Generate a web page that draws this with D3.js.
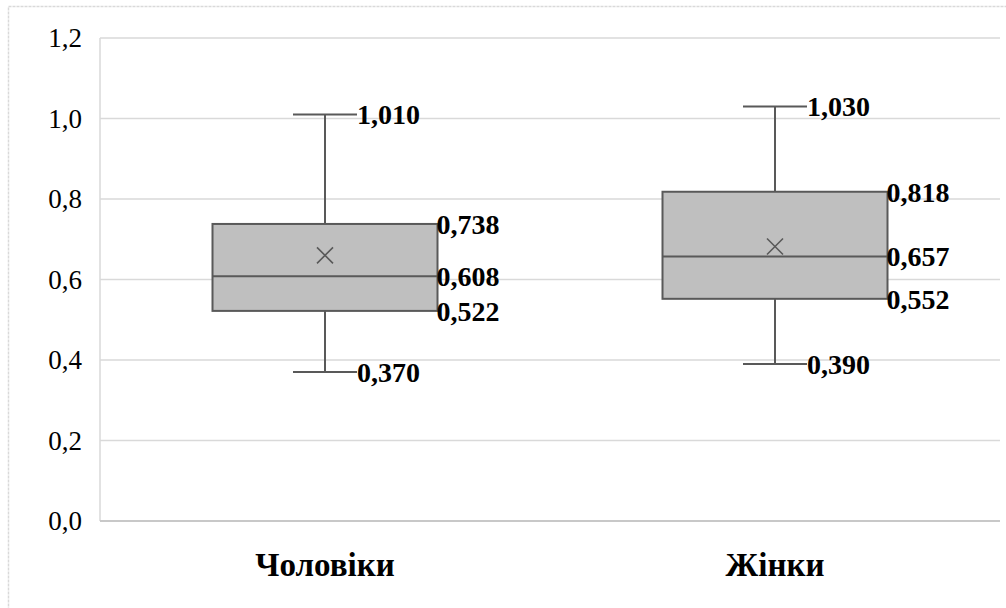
<!DOCTYPE html>
<html>
<head>
<meta charset="utf-8">
<script src="https://cdn.jsdelivr.net/npm/d3@7"></script>
<style>
  html, body { margin: 0; padding: 0; background: #fff; }
  svg { display: block; }
  text { font-family: "Liberation Serif", "Times New Roman", serif; }
</style>
</head>
<body>
<svg id="chart" width="1006" height="608"></svg>
<script>
// Box-plot statistics per group
const categories = ["Чоловіки", "Жінки"];
const whiskerLow = [0.370, 0.390];
const q1 = [0.522, 0.552];
const median = [0.608, 0.657];
const q3 = [0.738, 0.818];
const whiskerHigh = [1.010, 1.030];
const mean = [0.660, 0.682];
const yTicks = [0, 0.2, 0.4, 0.6, 0.8, 1.0, 1.2];

const fmt3 = v => v.toFixed(3).replace(".", ",");
const fmt1 = v => v.toFixed(1).replace(".", ",");

const W = 1006, H = 608;
const plot = { left: 100, right: 1000, top: 38, bottom: 521 };

const svg = d3.select("#chart");

// outer chart border
svg.append("rect")
  .attr("x", 8.5).attr("y", 6.5)
  .attr("width", W + 10).attr("height", H + 10)
  .attr("fill", "none")
  .attr("stroke", "#d9d9d9")
  .attr("stroke-width", 1.5)
  .attr("stroke-dasharray", "3,1");

const x = d3.scaleBand().domain(categories).range([plot.left, plot.right]).paddingInner(0).paddingOuter(0);
const y = d3.scaleLinear().domain([0, 1.2]).range([plot.bottom, plot.top]);

// horizontal gridlines
svg.append("g")
  .selectAll("line")
  .data(yTicks.filter(t => t > 0))
  .join("line")
  .attr("x1", plot.left).attr("x2", plot.right)
  .attr("y1", d => y(d)).attr("y2", d => y(d))
  .attr("stroke", "#d9d9d9")
  .attr("stroke-width", 1.5);

// left plot edge
svg.append("line")
  .attr("x1", plot.left).attr("x2", plot.left)
  .attr("y1", plot.top).attr("y2", plot.bottom)
  .attr("stroke", "#d9d9d9").attr("stroke-width", 1.5);

// y axis (labels only)
const yAxis = d3.axisLeft(y).tickValues(yTicks).tickFormat(fmt1).tickSize(0).tickPadding(18);
const yg = svg.append("g").attr("transform", `translate(${plot.left},0)`).call(yAxis);
yg.select(".domain").remove();
yg.selectAll("text")
  .attr("font-family", "Liberation Serif, serif")
  .attr("font-size", 27)
  .attr("fill", "#000");

// baseline axis
svg.append("line")
  .attr("x1", plot.left).attr("x2", plot.right)
  .attr("y1", y(0)).attr("y2", y(0))
  .attr("stroke", "#c8c8c8").attr("stroke-width", 2);

// x category labels
const xAxis = d3.axisBottom(x).tickSize(0).tickPadding(32);
const xg = svg.append("g").attr("transform", `translate(0,${plot.bottom})`).call(xAxis);
xg.select(".domain").remove();
xg.selectAll("text")
  .attr("font-family", "Liberation Serif, serif")
  .attr("font-size", 33)
  .attr("font-weight", "bold")
  .attr("fill", "#000");

const stroke = "#595959";
const boxW = x.bandwidth() * 0.5;
const capW = 64;

const groups = svg.append("g").selectAll("g")
  .data(categories.map((c, i) => ({
    c, lo: whiskerLow[i], q1: q1[i], med: median[i], q3: q3[i], hi: whiskerHigh[i], mean: mean[i]
  })))
  .join("g")
  .attr("transform", d => `translate(${x(d.c) + x.bandwidth() / 2},0)`);

// whiskers
groups.append("line")
  .attr("x1", 0).attr("x2", 0)
  .attr("y1", d => y(d.hi)).attr("y2", d => y(d.q3))
  .attr("stroke", stroke).attr("stroke-width", 2);
groups.append("line")
  .attr("x1", 0).attr("x2", 0)
  .attr("y1", d => y(d.q1)).attr("y2", d => y(d.lo))
  .attr("stroke", stroke).attr("stroke-width", 2);
// caps
groups.selectAll(".cap")
  .data(d => [d.lo, d.hi])
  .join("line")
  .attr("class", "cap")
  .attr("x1", -capW / 2).attr("x2", capW / 2)
  .attr("y1", v => y(v)).attr("y2", v => y(v))
  .attr("stroke", stroke).attr("stroke-width", 2);

// box
groups.append("rect")
  .attr("x", -boxW / 2)
  .attr("y", d => y(d.q3))
  .attr("width", boxW)
  .attr("height", d => y(d.q1) - y(d.q3))
  .attr("fill", "#bfbfbf")
  .attr("stroke", stroke).attr("stroke-width", 2);

// median
groups.append("line")
  .attr("x1", -boxW / 2).attr("x2", boxW / 2)
  .attr("y1", d => y(d.med)).attr("y2", d => y(d.med))
  .attr("stroke", stroke).attr("stroke-width", 2);

// mean marker
const m = 8;
groups.append("path")
  .attr("d", d => {
    const cy = y(d.mean);
    return `M${-m},${cy - m}L${m},${cy + m}M${-m},${cy + m}L${m},${cy - m}`;
  })
  .attr("stroke", stroke).attr("stroke-width", 1.6).attr("fill", "none");

// value labels: box edges and median at the box's right side
groups.selectAll(".boxlbl")
  .data(d => [d.q3, d.med, d.q1])
  .join("text")
  .attr("class", "boxlbl")
  .attr("x", boxW / 2 - 1)
  .attr("y", v => y(v))
  .attr("dy", "0.35em")
  .attr("font-size", 28)
  .attr("font-weight", "bold")
  .attr("fill", "#000")
  .text(fmt3);

// whisker labels beside the caps
groups.selectAll(".whlbl")
  .data(d => [d.hi, d.lo])
  .join("text")
  .attr("class", "whlbl")
  .attr("x", capW / 2)
  .attr("y", v => y(v))
  .attr("dy", "0.35em")
  .attr("font-size", 28)
  .attr("font-weight", "bold")
  .attr("fill", "#000")
  .text(fmt3);
</script>
</body>
</html>
